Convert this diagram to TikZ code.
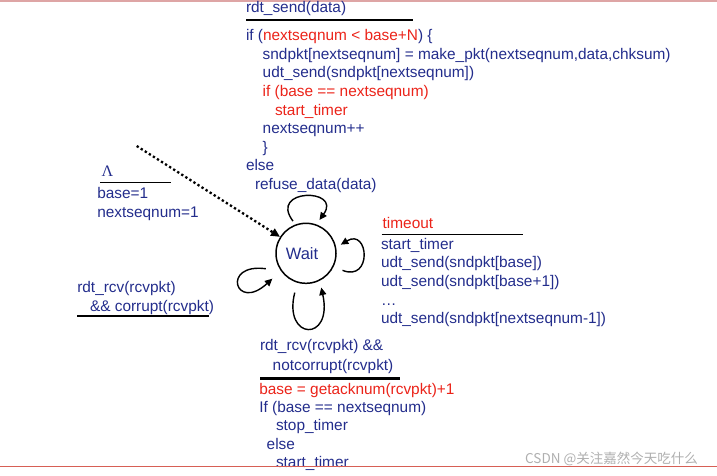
\documentclass[tikz,border=0pt]{standalone}
\usepackage{fontspec}
\setmainfont{Liberation Sans}
\newfontfamily\cjkfont{Noto Sans CJK SC}
\newfontfamily\lamfont{Liberation Serif}
\usetikzlibrary{arrows.meta,calc}
\definecolor{navy}{RGB}{35,45,140}
\definecolor{codered}{RGB}{235,35,25}
\definecolor{topline}{RGB}{222,165,165}
\definecolor{botline}{RGB}{215,95,85}
\definecolor{wmgray}{RGB}{175,175,175}
\begin{document}
\begin{tikzpicture}[x=1pt,y=-1pt,
  txt/.style={anchor=base west,inner sep=0pt,outer sep=0pt,text=navy,font=\fontsize{15.4}{18.6}\selectfont},
  redtxt/.style={txt,text=codered},
  thickrule/.style={draw=black,line width=2.5pt},
  thinrule/.style={draw=black,line width=1.5pt},
  loopar/.style={draw=black,line width=1.4pt,-{Triangle[length=7.5pt,width=7pt]}},
  initar/.style={draw=black,line width=2.3pt,dash pattern=on 2.3pt off 2.5pt,-{Triangle[length=9pt,width=8pt]}},
  state/.style={circle,draw=black,line width=1.5pt,minimum size=60pt,inner sep=0pt}
]
\useasboundingbox (0,0) rectangle (717,475);
\draw[topline,line width=1.5pt] (0,0.8) -- (717,0.8);

% top block: rdt_send
\node[txt] (s0) at (246,12) {rdt\_send(data)};
\draw[thickrule] (246,20) -- (413,20);
\node[txt] (s1) at (246,40.7) {if (\textcolor{codered}{nextseqnum < base+N}) \{};
\node[txt] (s2) at (262.7,59.3) {sndpkt[nextseqnum] = make\_pkt(nextseqnum,data,chksum)};
\node[txt] (s3) at (262.7,77.9) {udt\_send(sndpkt[nextseqnum])};
\node[redtxt] (s4) at (262.7,96.5) {if (base == nextseqnum)};
\node[redtxt] (s5) at (275,115.1) {start\_timer};
\node[txt] (s6) at (262.7,133.7) {nextseqnum++};
\node[txt] (s7) at (262.7,152.3) {\}};
\node[txt] (s8) at (246,170.9) {else};
\node[txt] (s9) at (255,189.5) {refuse\_data(data)};

% initial
\node[txt,font=\lamfont\fontsize{16}{18}\selectfont] (lam) at (101.7,176) {Λ};
\draw[thinrule] (100,182.7) -- (170.7,182.7);
\node[txt] (i1) at (97.3,198.3) {base=1};
\node[txt] (i2) at (97.3,217.3) {nextseqnum=1};

% corrupt
\node[txt] (c1) at (77.3,292.7) {rdt\_rcv(rcvpkt)};
\node[txt] (c2) at (90,311.7) {\&\& corrupt(rcvpkt)};
\draw[draw=black,line width=2pt] (77.3,316) -- (209,316);

% timeout
\node[redtxt] (t0) at (382.7,228.3) {timeout};
\draw[draw=black,line width=1.6pt] (381.7,234.3) -- (523.3,234.3);
\node[txt] (t1) at (381,249.3) {start\_timer};
\node[txt] (t2) at (381,267.3) {udt\_send(sndpkt[base])};
\node[txt] (t3) at (381,286) {udt\_send(sndpkt[base+1])};
\node[txt] (t4) at (381,305) {…};
\node[txt] (t5) at (381,323.3) {udt\_send(sndpkt[nextseqnum-1])};

% ack
\node[txt] (a0) at (260,350.7) {rdt\_rcv(rcvpkt) \&\&};
\node[txt] (a1) at (272.7,370) {notcorrupt(rcvpkt)};
\draw[thickrule] (260,378.3) -- (400,378.3);
\node[redtxt] (a2) at (259.3,394) {base = getacknum(rcvpkt)+1};
\node[txt] (a3) at (259.3,412.7) {If (base == nextseqnum)};
\node[txt] (a4) at (276,430.7) {stop\_timer};
\node[txt] (a5) at (266.7,449.3) {else};
\node[txt] (a6) at (276,467.3) {start\_timer};

% state
\node[state] (wait) at (306,253.3) {};
\node[anchor=base,inner sep=0pt,text=navy,font=\fontsize{16.5}{18}\selectfont] (waitlbl) at (302,259) {Wait};

\coordinate (init) at (136.7,146);
\draw[initar] (init) -- (wait);

\draw[loopar] ($(wait.center)!1.13!(wait.112)$) .. controls +(-25,-33) and +(23,-32) .. ($(wait.center)!1.17!(wait.68)$);
\draw[loopar] ($(wait.center)!1.31!(wait.335)$) .. controls +(30,12) and +(28,-17) .. ($(wait.center)!1.167!(wait.14)$);
\draw[loopar] ($(wait.center)!1.33!(wait.254)$) .. controls +(-12,48) and +(12,55) .. ($(wait.center)!1.22!(wait.294)$);
\draw[loopar] ($(wait.center)!1.40!(wait.201)$) .. controls +(-45,-6) and +(-37,34) .. ($(wait.center)!1.37!(wait.217)$);

% watermark and bottom line
\node[anchor=base west,inner sep=0pt,text=wmgray,font=\cjkfont\fontsize{13.5}{15}\selectfont] (wm) at (525,463) {CSDN @关注嘉然今天吃什么};
\draw[botline,line width=1.5pt] (0,466.7) -- (717,466.7);
\end{tikzpicture}
\end{document}
